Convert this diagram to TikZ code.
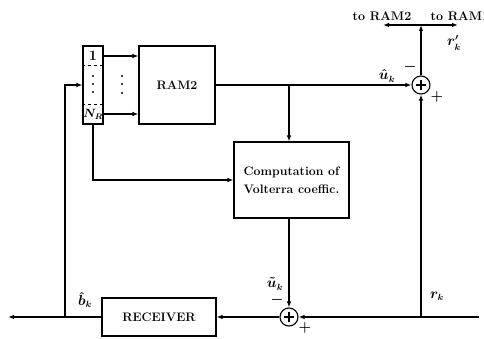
\documentclass[tikz,border=0pt]{standalone}
\usetikzlibrary{arrows.meta}
\begin{document}
\begin{tikzpicture}[x=1pt,y=-1pt, line width=1.1pt,
  >={Latex[length=6pt,width=4.5pt]},
  blk/.style={draw, inner sep=0pt, font=\fontsize{12.3}{18}\selectfont\bfseries, align=center},
  sumn/.style={draw, circle, minimum size=18pt, inner sep=0pt,
    path picture={\draw[line width=1.3pt] ([xshift=-5pt]path picture bounding box.center) -- ([xshift=5pt]path picture bounding box.center);
                  \draw[line width=1.3pt] ([yshift=-5pt]path picture bounding box.center) -- ([yshift=5pt]path picture bounding box.center);}},
  lbl/.style={font=\fontsize{13.5}{15}\selectfont\boldmath, inner sep=0pt},
  txt/.style={font=\fontsize{12.5}{14}\selectfont\bfseries, inner sep=0pt},
  dotn/.style={circle, fill, inner sep=0pt, minimum size=2.4pt}]
\useasboundingbox (0,0) rectangle (484,339);

% blocks
\node[blk, minimum width=20pt, minimum height=78pt] (reg) at (93,85) {};
\node[blk, minimum width=76pt, minimum height=78pt] (ram) at (177,85) {RAM2};
\node[blk, minimum width=115pt, minimum height=76pt] (comp) at (291.5,180) {Computation of\\Volterra coeffic.};
\node[blk, minimum width=114pt, minimum height=38pt] (rx) at (159,317) {RECEIVER};
\node[sumn] (sum1) at (421,85) {};
\node[sumn] (sum2) at (289,317) {};

% register contents
\draw[dashed, line width=0.9pt] ([yshift=-20pt]reg.north west) -- ([yshift=-20pt]reg.north east);
\draw[dashed, line width=0.9pt] ([yshift=20pt]reg.south west) -- ([yshift=20pt]reg.south east);
\node[lbl] (one) at (93,56) {$1$};
\node[dotn] (d1) at (93,76) {};
\node[dotn] (d2) at (93,84) {};
\node[dotn] (d3) at (93,92) {};
\node[lbl, font=\fontsize{12}{14}\selectfont\boldmath] (nr) at (93,114) {$N_R$};
\node[dotn] (e1) at (122,76) {};
\node[dotn] (e2) at (122,84) {};
\node[dotn] (e3) at (122,93) {};

% coordinates
\coordinate (outL) at (8,317);
\coordinate (jb) at (65,317);
\coordinate (br) at (289,85);
\coordinate (inR) at (479,317);
\coordinate (jr) at (421,317);
\coordinate (tj) at (421,25);
\coordinate (tl) at (383,25);
\coordinate (tr) at (458,25);

% connectors
\draw[->] ([yshift=29pt]reg.east) -- ([yshift=29pt]ram.west);
\draw[->] ([yshift=-29pt]reg.east) -- ([yshift=-29pt]ram.west);
\draw[->] (rx.west) -- (outL);
\draw[->] (jb) |- (reg.west);
\draw[->] (reg.south) |- (comp.west);
\draw[->] (ram.east) -- (sum1.west);
\draw[->] (br) -- (br |- comp.north);
\draw[->] (br |- comp.south) -- (sum2.north);
\draw[->] (inR) -- (sum2.east);
\draw[->] (jr) -- (sum1.south);
\draw[->] (sum2.west) -- (rx.east);
\draw[->] (sum1.north) -- (tj);
\draw[<->] (tl) -- (tr);

% labels
\node[txt] (t2) at (382,16) {to RAM2};
\node[txt, anchor=west] (t1) at (430,16) {to RAM1};
\node[lbl] (uhat) at (387,76) {$\hat u_k$};
\node[lbl] (m1) at (410,67) {$-$};
\node[lbl] (p1) at (437,97) {$+$};
\node[lbl] (rp) at (454,43) {$r'_k$};
\node[lbl] (util) at (275,284) {$\tilde u_k$};
\node[lbl] (m2) at (277,300) {$-$};
\node[lbl] (p2) at (305,328) {$+$};
\node[lbl] (rk) at (437,296) {$r_k$};
\node[lbl] (bhat) at (85,300) {$\hat b_k$};
\end{tikzpicture}
\end{document}
